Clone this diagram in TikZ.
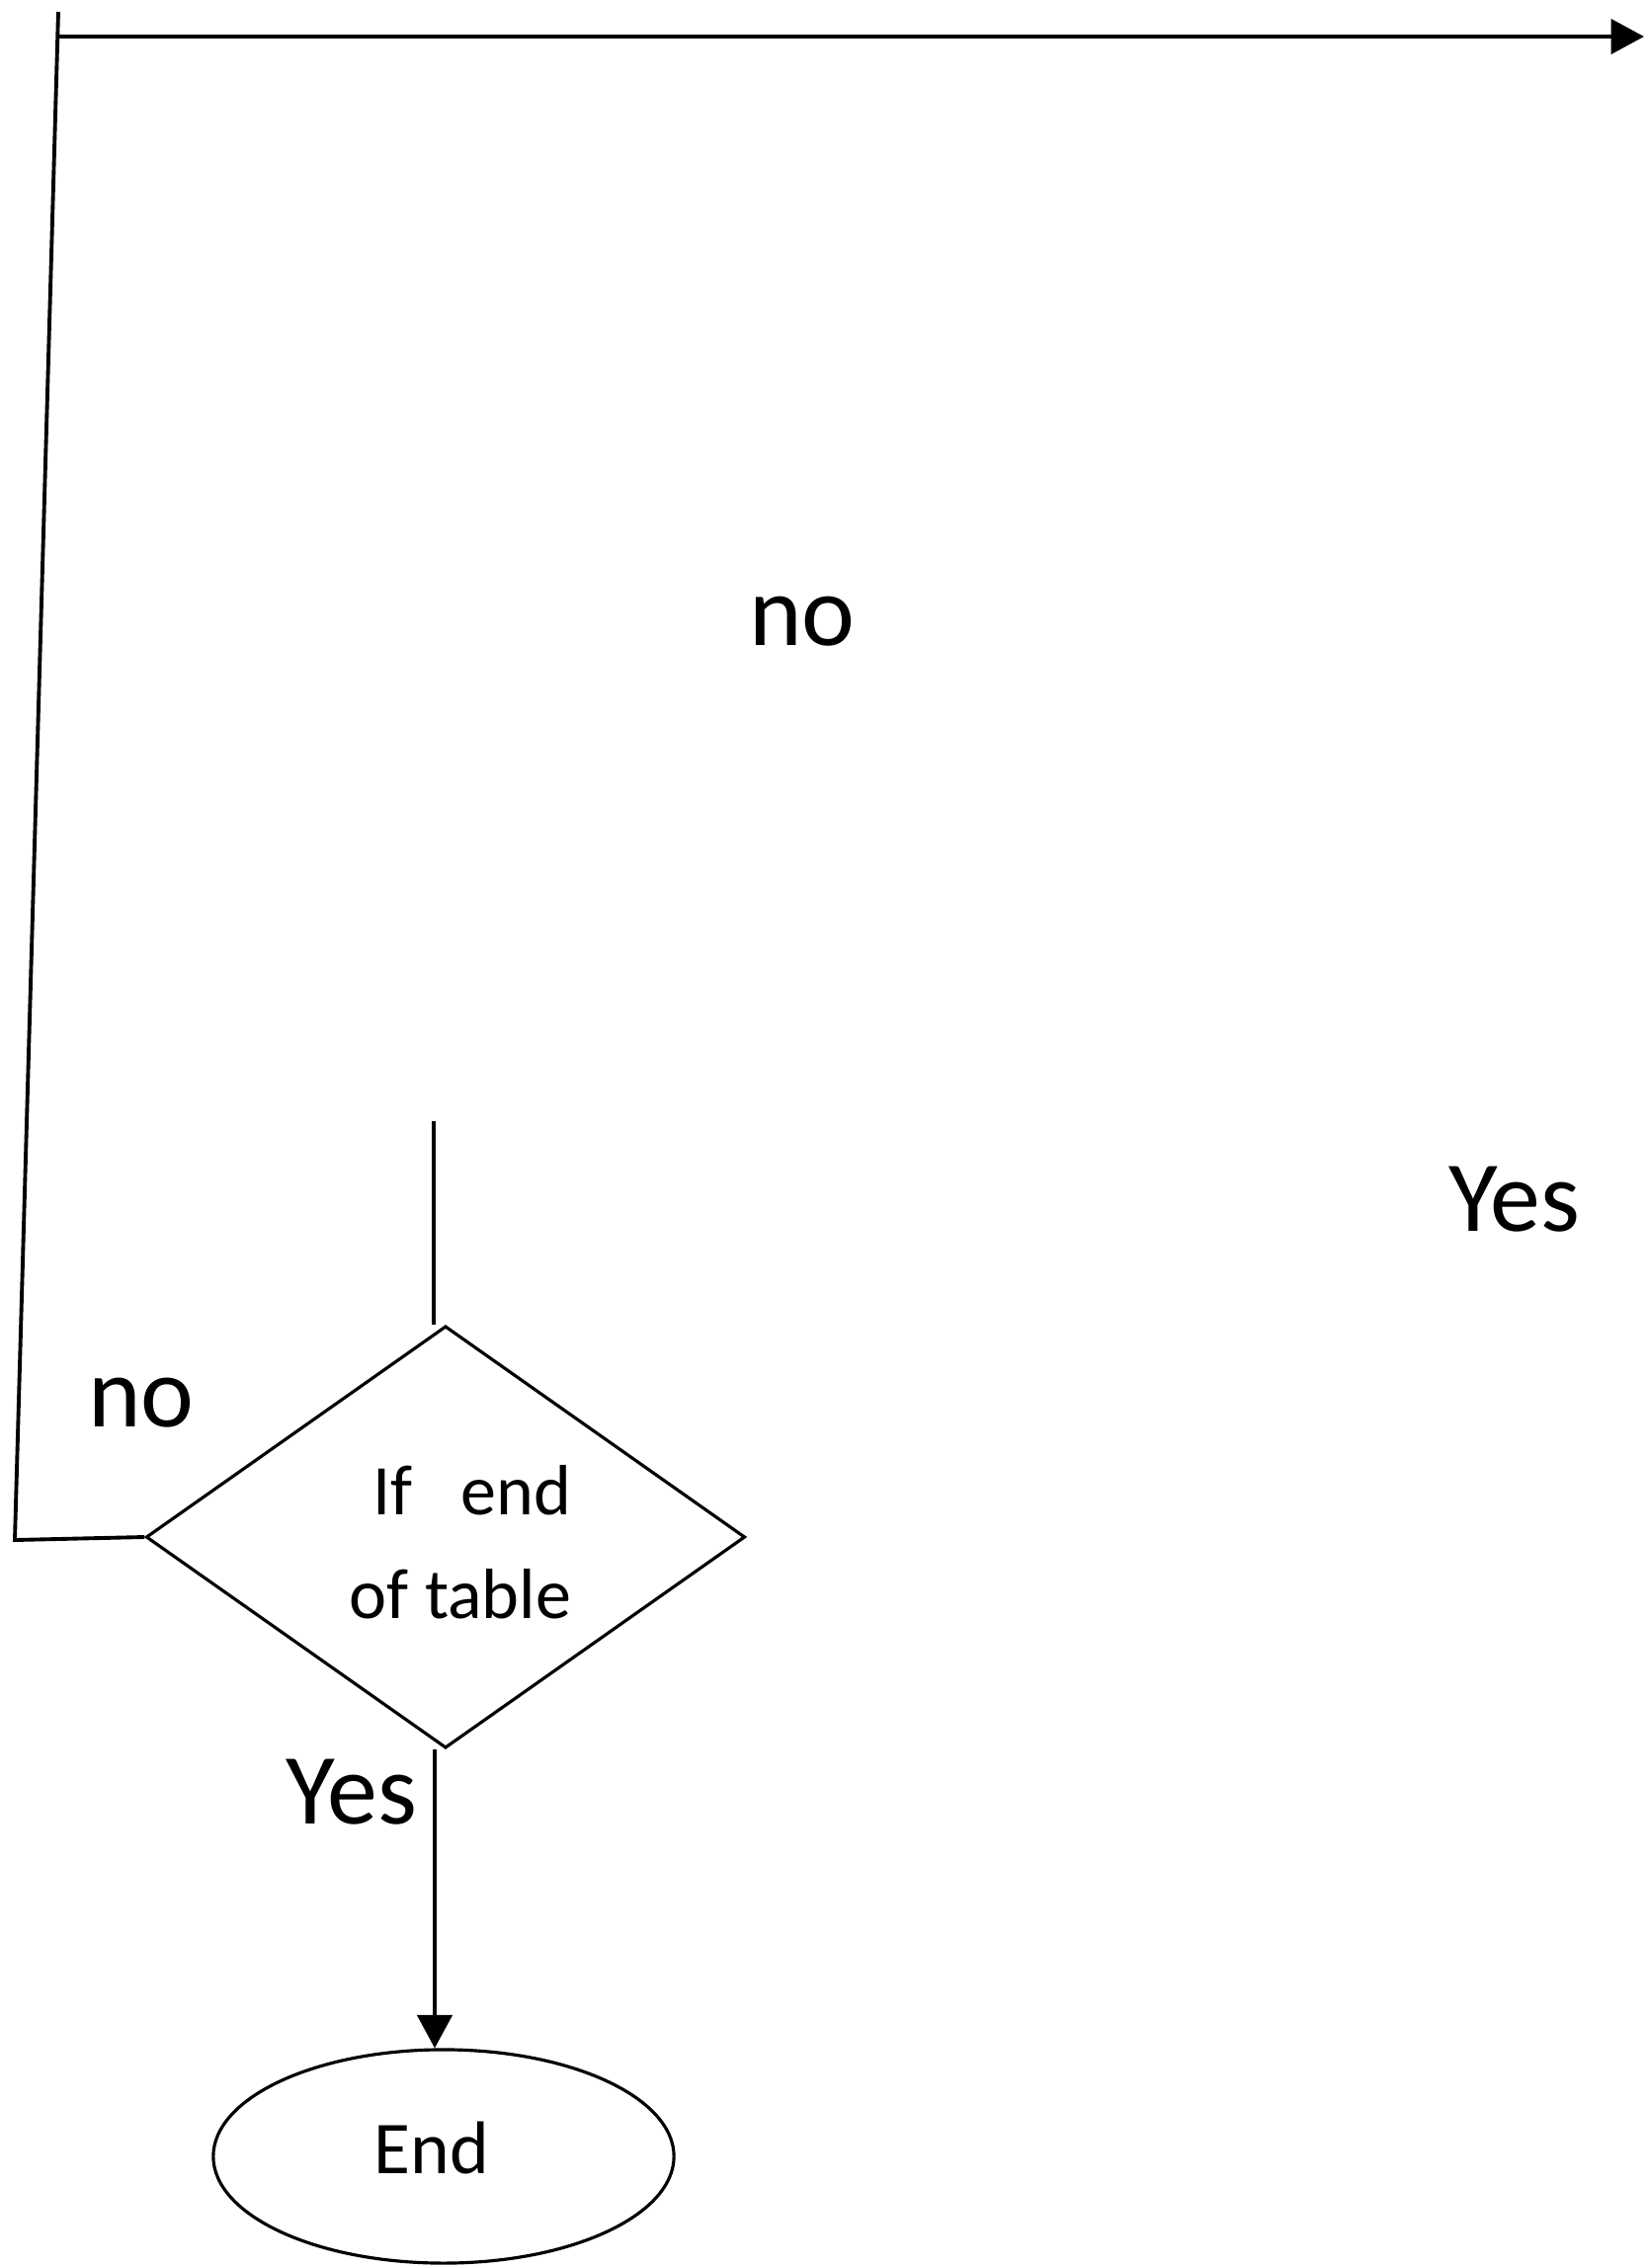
\documentclass[tikz,border=0pt]{standalone}
\usepackage{fontspec}
\setmainfont{Carlito}
\usetikzlibrary{shapes.geometric,arrows.meta}
\tikzset{
  conn/.style={line width=1.1pt},
  arr/.style={line width=1.1pt,-{Triangle[length=9.5pt,width=10pt]}},
  decbox/.style={diamond,draw,line width=0.9pt,minimum width=6.06cm,minimum height=4.27cm,inner sep=0pt},
  endbox/.style={ellipse,draw,line width=0.9pt,minimum width=4.66cm,minimum height=2.16cm,inner sep=0pt},
  biglabel/.style={inner sep=0pt,font=\fontsize{29}{34}\selectfont},
  dectxt/.style={inner sep=0pt,align=right,font=\fontsize{20.5}{30}\selectfont},
  endtxt/.style={inner sep=0pt,font=\fontsize{21.5}{26}\selectfont}
}
\begin{document}
\begin{tikzpicture}[x=0.01cm,y=-0.01cm]
\useasboundingbox[fill=white] (0,0) rectangle (1666,2296);
% nodes
\node[decbox] (dec) at (451,1556) {};
\node[dectxt] (dectext) at (466,1561) {If\ \ \ end\\of table};
\node[endbox] (end) at (449,2183) {};
\node[endtxt] (endtext) at (437,2174) {End};
% labels
\node[biglabel] (no1) at (812,629) {no};
\node[biglabel] (yes1) at (1533,1214) {Yes};
\node[biglabel] (no2) at (143,1420) {no};
\node[biglabel] (yes2) at (356,1814) {Yes};
% coordinates
\coordinate (tl) at (59,12);
\coordinate (bl) at (15,1559);
\coordinate (tj) at (58,37);
\coordinate (tr) at (1664,37);
\coordinate (in) at (439,1135);
% connectors
\draw[conn] (dec.west) -- (bl) -- (tl);
\draw[arr] (tj) -- (tr);
\draw[conn] (in) -- (in |- dec.north);
\draw[arr] ([xshift=-0.11cm]dec.south) -- ([xshift=-0.09cm]end.north);
\end{tikzpicture}
\end{document}
